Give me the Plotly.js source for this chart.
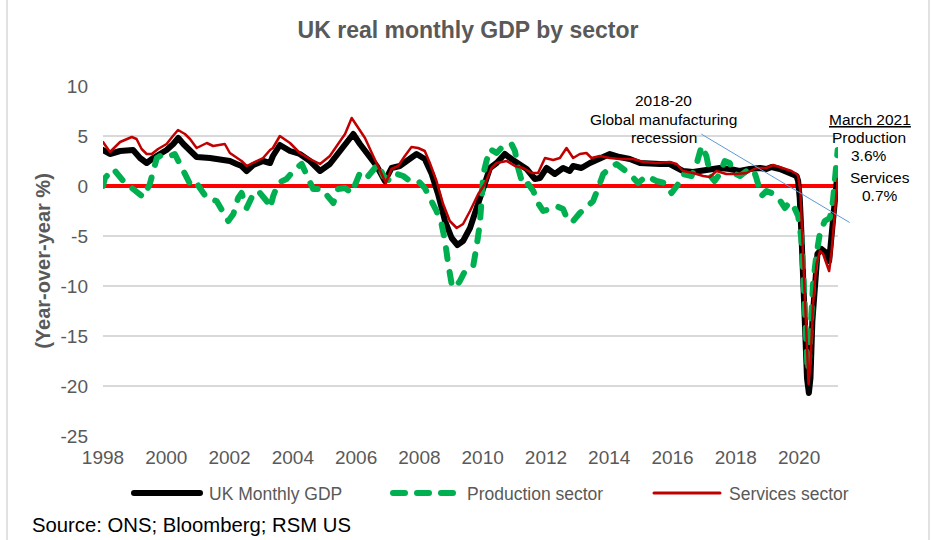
<!DOCTYPE html>
<html>
<head>
<meta charset="utf-8">
<script src="https://cdn.plot.ly/plotly-3.0.1.min.js"></script>
<style>
  html, body { margin: 0; padding: 0; background: #ffffff; }
  #chart { width: 936px; height: 540px; }
  .scatterlayer path.js-line { stroke-linecap: round; stroke-linejoin: round; }
  .shapelayer path { stroke-linecap: round; }
</style>
</head>
<body>
<div id="chart"></div>
<script>
// ---- Data (decimal years, year-over-year %) ----
const gdpYears = [1998.00,1998.22,1998.54,1998.95,1999.17,1999.38,1999.59,1999.85,2000.01,2000.22,2000.38,2000.54,2000.75,2000.96,2001.38,2001.80,2002.01,2002.22,2002.38,2002.54,2002.75,2003.06,2003.28,2003.37,2003.59,2003.91,2004.22,2004.54,2004.86,2005.17,2005.43,2005.70,2005.91,2006.12,2006.38,2006.65,2006.91,2007.12,2007.38,2007.70,2007.91,2008.17,2008.39,2008.59,2008.81,2009.02,2009.20,2009.38,2009.60,2009.81,2010.02,2010.23,2010.44,2010.70,2010.91,2011.12,2011.39,2011.65,2011.81,2012.02,2012.28,2012.54,2012.75,2012.86,2013.12,2013.39,2013.70,2014.02,2014.33,2014.65,2014.97,2015.28,2015.60,2015.91,2016.13,2016.33,2016.65,2016.97,2017.28,2017.49,2017.81,2018.12,2018.44,2018.76,2018.97,2019.13,2019.39,2019.71,2019.92,2019.97,2020.02,2020.08,2020.13,2020.18,2020.25,2020.31,2020.36,2020.42,2020.50,2020.58,2020.71,2020.87,2020.95,2021.02,2021.13,2021.22];
const gdpValues = [3.6,3.2,3.5,3.6,2.8,2.3,2.8,3.3,3.6,4.2,4.8,4.2,3.5,2.9,2.8,2.7,2.5,2.2,2.0,1.5,2.1,2.5,2.3,3.0,4.1,3.5,3.2,2.5,1.5,2.2,3.3,4.2,5.2,4.2,3.2,2.0,0.5,1.8,2.0,2.8,3.2,2.7,1.2,-0.8,-3.5,-5.2,-5.9,-5.5,-4.2,-2.2,-0.2,1.8,2.3,3.2,2.7,2.2,1.7,0.7,0.8,1.8,1.2,1.8,1.5,2.0,1.8,2.3,2.8,3.2,2.9,2.7,2.3,2.2,2.2,2.2,1.8,1.5,1.4,1.5,1.7,1.8,1.7,1.5,1.7,1.8,1.7,1.9,1.7,1.3,1.0,0.5,-1.2,-5.2,-10.2,-15.2,-19.2,-20.7,-19.2,-13.5,-9.5,-6.8,-6.3,-6.7,-7.5,-5.2,-1.8,1.5];

const prodYears = [1998.00,1998.06,1998.33,1998.48,1998.64,1998.91,1999.12,1999.27,1999.48,1999.59,1999.70,1999.91,2000.12,2000.27,2000.43,2000.59,2000.75,2000.91,2001.06,2001.28,2001.59,2001.80,2001.96,2002.12,2002.27,2002.38,2002.54,2002.75,2002.91,2003.17,2003.28,2003.38,2003.54,2003.80,2004.07,2004.28,2004.49,2004.64,2004.91,2005.12,2005.28,2005.43,2005.65,2005.86,2005.96,2006.12,2006.33,2006.54,2006.70,2006.86,2007.07,2007.28,2007.49,2007.70,2007.96,2008.17,2008.39,2008.54,2008.70,2008.81,2008.91,2009.02,2009.12,2009.28,2009.44,2009.70,2009.80,2009.91,2009.97,2010.02,2010.12,2010.23,2010.44,2010.65,2010.91,2011.02,2011.12,2011.28,2011.44,2011.60,2011.75,2011.91,2012.12,2012.33,2012.54,2012.70,2012.86,2013.07,2013.33,2013.49,2013.65,2013.81,2014.02,2014.23,2014.44,2014.65,2014.91,2015.18,2015.49,2015.76,2015.97,2016.18,2016.33,2016.60,2016.76,2016.92,2017.07,2017.20,2017.33,2017.49,2017.65,2017.81,2017.92,2018.13,2018.34,2018.55,2018.65,2018.81,2018.97,2019.13,2019.39,2019.55,2019.71,2019.87,2019.97,2020.07,2020.13,2020.18,2020.24,2020.27,2020.32,2020.39,2020.44,2020.55,2020.66,2020.81,2020.97,2021.07,2021.15,2021.22];
const prodValues = [0.0,0.8,1.7,1.0,0.5,-0.2,-0.7,-1.1,0.2,1.5,2.8,3.2,3.0,3.2,2.3,1.2,0.2,0.5,-0.3,-1.2,-1.5,-2.5,-3.5,-2.8,-1.2,-0.7,-2.2,-0.8,-0.5,-1.5,-2.2,-1.0,0.3,0.7,1.7,2.2,0.8,-0.3,-0.3,-1.0,-1.7,-0.3,-0.2,-0.7,0.2,1.3,0.8,1.5,2.2,1.0,0.5,1.2,1.0,0.5,0.5,-0.2,-1.5,-2.5,-3.8,-5.5,-7.8,-9.8,-10.2,-9.5,-8.5,-8.0,-6.2,-3.8,-1.2,1.2,2.5,3.7,3.3,4.0,4.2,3.5,1.8,0.0,0.2,-0.5,-1.7,-2.5,-2.3,-2.0,-2.3,-3.5,-3.5,-2.7,-2.0,-1.5,-0.2,1.2,1.8,2.2,1.7,1.2,0.3,1.0,0.5,0.3,-0.7,0.2,1.2,1.0,2.2,4.0,3.0,1.0,0.5,1.2,2.5,2.3,1.3,1.0,1.5,1.7,0.8,-1.0,-0.5,-0.7,-1.4,-2.2,-1.6,-2.3,-3.0,-5.2,-8.5,-11.8,-15.8,-18.5,-17.2,-13.5,-9.8,-6.8,-4.7,-3.5,-3.2,-1.5,1.0,3.6];

const servYears = [1998.00,1998.22,1998.54,1998.91,1999.06,1999.22,1999.38,1999.54,1999.74,2000.01,2000.21,2000.37,2000.59,2000.75,2000.96,2001.28,2001.48,2001.70,2001.85,2002.01,2002.22,2002.38,2002.54,2002.75,2003.06,2003.28,2003.37,2003.59,2003.91,2004.22,2004.54,2004.86,2005.17,2005.43,2005.65,2005.86,2006.07,2006.28,2006.54,2006.75,2006.94,2007.12,2007.33,2007.54,2007.75,2007.96,2008.17,2008.33,2008.54,2008.75,2008.96,2009.18,2009.38,2009.60,2009.86,2010.07,2010.28,2010.44,2010.76,2011.02,2011.28,2011.55,2011.75,2011.97,2012.23,2012.44,2012.65,2012.86,2013.07,2013.28,2013.44,2013.70,2014.02,2014.33,2014.76,2015.07,2015.49,2015.91,2016.13,2016.33,2016.65,2016.97,2017.18,2017.39,2017.70,2018.02,2018.34,2018.65,2018.97,2019.18,2019.49,2019.76,2019.92,2019.97,2020.04,2020.10,2020.18,2020.25,2020.30,2020.36,2020.44,2020.55,2020.66,2020.76,2020.87,2020.95,2021.02,2021.13,2021.22];
const servValues = [4.4,3.4,4.4,4.9,4.7,3.7,3.2,3.2,3.7,4.2,5.0,5.6,5.2,4.7,3.8,4.3,4.0,4.1,4.2,3.3,2.8,2.5,2.0,2.3,2.8,3.6,3.8,5.0,4.3,3.3,2.7,2.2,3.0,4.2,5.2,6.8,5.8,4.8,3.0,1.5,0.3,1.7,2.0,3.0,3.9,3.8,3.5,2.3,0.5,-1.8,-3.5,-4.2,-3.8,-2.5,-0.8,0.2,1.8,2.3,2.5,2.0,1.8,1.3,1.3,2.8,2.6,2.8,3.8,2.8,3.2,3.3,2.8,3.0,2.8,2.7,2.7,2.4,2.3,2.4,2.2,1.5,1.3,1.0,0.9,1.5,1.2,1.2,1.3,1.8,1.8,2.1,1.8,1.5,1.2,1.0,-0.5,-5.2,-11.8,-17.2,-19.8,-17.8,-11.8,-7.8,-6.5,-6.8,-7.8,-8.5,-6.8,-2.5,0.7];

const tickYears = [1998,2000,2002,2004,2006,2008,2010,2012,2014,2016,2018,2020];
const tickLabels = tickYears.map(String);
const yTickVals = [-25,-20,-15,-10,-5,0,5,10];
const yTickLabels = ['-25','-20','-15','-10','-5','0','5','10'];
const seriesNames = ['UK Monthly GDP','Production sector','Services sector'];

// ---- Layout helpers (pixel -> paper) ----
const L = 103, R = 838, T = 86, B = 436;
const px = x => (x - L) / (R - L);
const py = y => (B - y) / (B - T);

const FONT = '"Liberation Sans", Arial, sans-serif';
const GREY = '#595959';

const traces = [
  { x: gdpYears, y: gdpValues, name: seriesNames[0], type: 'scatter', mode: 'lines',
    line: { color: '#000000', width: 6 }, showlegend: false, hoverinfo: 'skip' },
  { x: prodYears, y: prodValues, name: seriesNames[1], type: 'scatter', mode: 'lines',
    line: { color: '#00B050', width: 6, dash: '11px,13px' }, showlegend: false, hoverinfo: 'skip' },
  { x: servYears, y: servValues, name: seriesNames[2], type: 'scatter', mode: 'lines',
    line: { color: '#C00000', width: 2.5 }, showlegend: false, hoverinfo: 'skip' }
];

const legendY = py(493);
const shapes = [
  // chart border
  { type: 'line', xref: 'paper', yref: 'paper', x0: px(7), x1: px(7), y0: py(545), y1: py(-5), line: { color: '#d9d9d9', width: 1.5 } },
  { type: 'line', xref: 'paper', yref: 'paper', x0: px(929), x1: px(929), y0: py(545), y1: py(-5), line: { color: '#d9d9d9', width: 1.5 } },
  // annotation pointer line
  { type: 'line', xref: 'paper', yref: 'paper', x0: px(701.7), y0: py(134.3), x1: px(849.3), y1: py(222.3), line: { color: '#5B9BD5', width: 1 } },
  // legend swatches
  { type: 'line', xref: 'paper', yref: 'paper', x0: px(134), x1: px(200), y0: legendY, y1: legendY, line: { color: '#000000', width: 6 } },
  { type: 'line', xref: 'paper', yref: 'paper', x0: px(393), x1: px(453), y0: legendY, y1: legendY, line: { color: '#00B050', width: 6, dash: '12px,12px' } },
  { type: 'line', xref: 'paper', yref: 'paper', x0: px(654), x1: px(720), y0: legendY, y1: legendY, line: { color: '#C00000', width: 3 } }
];

function note(text, x, y, opts) {
  return Object.assign({ text: text, xref: 'paper', yref: 'paper', x: px(x), y: py(y),
    xanchor: 'center', yanchor: 'middle', showarrow: false,
    font: { family: FONT, size: 15.5, color: '#000000' } }, opts || {});
}

const annotations = [
  note('2018-20', 663, 101),
  note('Global manufacturing', 663, 119),
  note('recession', 664, 137),
  note('<u>March 2021</u>', 870, 119),
  note('Production', 869, 137),
  note('3.6%', 869, 155),
  note('Services', 880, 177),
  note('0.7%', 880, 195),
  // legend labels
  note(seriesNames[0], 207, 494, { xanchor: 'left', font: { family: FONT, size: 17.5, color: GREY } }),
  note(seriesNames[1], 465, 494, { xanchor: 'left', font: { family: FONT, size: 17.5, color: GREY } }),
  note(seriesNames[2], 727, 494, { xanchor: 'left', font: { family: FONT, size: 17.5, color: GREY } }),
  // source
  note('Source: ONS; Bloomberg; RSM US', 30, 525, { xanchor: 'left', font: { family: FONT, size: 20.3, color: '#000000' } })
];

const layout = {
  width: 936, height: 540,
  margin: { l: L, r: 936 - R, t: T, b: 540 - B, pad: 0 },
  paper_bgcolor: '#ffffff', plot_bgcolor: '#ffffff',
  font: { family: FONT, color: GREY },
  showlegend: false,
  title: { text: '<b>UK real monthly GDP by sector</b>', x: 0.5, xref: 'container', xanchor: 'center',
           y: 1 - 30 / 540, yref: 'container', yanchor: 'middle',
           font: { family: FONT, size: 23, color: GREY } },
  xaxis: { range: [1998, 2021.23], tickmode: 'array', tickvals: tickYears, ticktext: tickLabels,
           showgrid: false, zeroline: false, showline: false, ticks: '',
           tickfont: { family: FONT, size: 19, color: GREY }, ticklabelstandoff: 8, fixedrange: true },
  yaxis: { range: [-25, 10], tickmode: 'array', tickvals: yTickVals, ticktext: yTickLabels,
           showgrid: true, gridcolor: '#d9d9d9', gridwidth: 1.3,
           zeroline: true, zerolinecolor: '#FF0000', zerolinewidth: 3.5, showline: false, ticks: '',
           tickfont: { family: FONT, size: 19, color: GREY }, ticklabelstandoff: 14,
           title: { text: '<b>(Year-over-year %)</b>', standoff: 4, font: { family: FONT, size: 20, color: GREY } },
           fixedrange: true },
  shapes: shapes,
  annotations: annotations
};

Plotly.newPlot('chart', traces, layout, { displayModeBar: false, staticPlot: true });
</script>
</body>
</html>
